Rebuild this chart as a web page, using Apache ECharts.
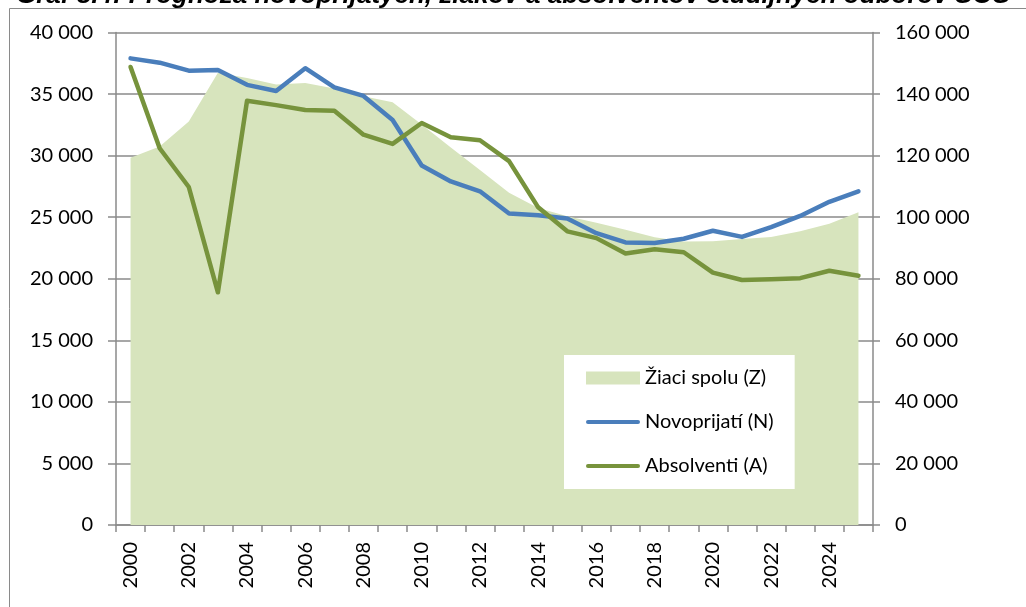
<!DOCTYPE html>
<html>
<head>
<meta charset="utf-8">
<script src="https://cdn.jsdelivr.net/npm/echarts@6/dist/echarts.min.js"></script>
<style>
  html, body { margin: 0; padding: 0; background: #fff; }
  #chart { width: 1026px; height: 607px; }
</style>
</head>
<body>
<div id="chart"></div>
<script>
// roky 2000 - 2025
var roky = ['2000','2001','2002','2003','2004','2005','2006','2007','2008','2009','2010','2011','2012',
  '2013','2014','2015','2016','2017','2018','2019','2020','2021','2022','2023','2024','2025'];

// Novoprijatí (N) - lavá os
var novoprijati = [37900, 37550, 36900, 36950, 35750, 35250, 37100, 35550, 34850, 32900, 29200, 27900, 27100,
  25300, 25150, 24900, 23700, 22950, 22900, 23250, 23900, 23400, 24200, 25100, 26250, 27100];

// Absolventi (A) - lavá os
var absolventi = [37200, 30600, 27450, 18900, 34450, 34100, 33700, 33650, 31700, 30950, 32650, 31500, 31250,
  29550, 25800, 23850, 23300, 22050, 22400, 22150, 20500, 19900, 19950, 20050, 20650, 20250];

// Žiaci spolu (Z) - pravá os
var ziaci = [119300, 123000, 131100, 146900, 145200, 143100, 143600, 141800, 139300, 137300, 130100, 122600, 115300,
  107900, 103000, 100300, 98200, 95900, 93500, 92100, 92200, 92900, 93600, 95400, 97900, 101600];

var lavaOs = { min: 0, max: 40000, interval: 5000 };
var pravaOs = { min: 0, max: 160000, interval: 20000 };

var FONT = 'Lato';
var GRAY = '#8a8a8a';
// ikona ciary v legende (bez bodu)
var CIARA = 'path://M2,0 L52,0 A2,2 0 0 1 52,4 L2,4 A2,2 0 0 1 2,0 Z';

function medzery(v) {
  return String(v).replace(/\B(?=(\d{3})+(?!\d))/g, ' ');
}

var chart = echarts.init(document.getElementById('chart'));

var option = {
  animation: false,
  textStyle: { fontFamily: FONT, color: '#000' },
  grid: { left: 116, right: 153, top: 32.5, bottom: 82, containLabel: false },
  graphic: [
    {
      type: 'rect',
      shape: { x: 9.5, y: 8.5, width: 2000, height: 2000 },
      style: { fill: null, stroke: GRAY, lineWidth: 1 },
      silent: true
    },
    {
      type: 'text',
      x: 16, y: 9,
      style: {
        text: 'Graf 8.4: Prognóza novoprijatých, žiakov a absolventov študijných odborov SOŠ',
        font: 'italic bold 26px "Liberation Sans"',
        fill: '#000',
        verticalAlign: 'bottom'
      },
      silent: true
    }
  ],
  legend: {
    orient: 'vertical',
    left: 564,
    top: 355,
    backgroundColor: '#fff',
    padding: [13, 21, 13, 22],
    itemGap: 24,
    itemWidth: 54,
    itemHeight: 13,
    textStyle: { fontFamily: FONT, fontSize: 20, color: '#000' },
    data: [
      { name: 'Žiaci spolu (Z)', icon: 'rect' },
      { name: 'Novoprijatí (N)', icon: CIARA },
      { name: 'Absolventi (A)', icon: CIARA }
    ]
  },
  xAxis: {
    type: 'category',
    data: roky,
    boundaryGap: true,
    axisLine: { lineStyle: { color: GRAY, width: 1.5 } },
    axisTick: { show: true, interval: 0, length: 7, lineStyle: { color: GRAY, width: 1.5 } },
    axisLabel: { interval: 1, rotate: 90, margin: 17, fontSize: 20, color: '#000', fontFamily: FONT },
    splitLine: { show: false }
  },
  yAxis: [
    {
      type: 'value',
      min: lavaOs.min, max: lavaOs.max, interval: lavaOs.interval,
      axisLine: { show: true, lineStyle: { color: GRAY, width: 1.5 } },
      axisTick: { show: true, length: 8, lineStyle: { color: GRAY, width: 1.5 } },
      axisLabel: { margin: 23, fontSize: 20, color: '#000', fontFamily: FONT, formatter: medzery },
      splitLine: { show: true, lineStyle: { color: GRAY, width: 1.5 } }
    },
    {
      type: 'value',
      min: pravaOs.min, max: pravaOs.max, interval: pravaOs.interval,
      position: 'right',
      axisLine: { show: true, lineStyle: { color: GRAY, width: 1.5 } },
      axisTick: { show: true, length: 7, lineStyle: { color: GRAY, width: 1.5 } },
      axisLabel: { margin: 22, fontSize: 20, color: '#000', fontFamily: FONT, formatter: medzery },
      splitLine: { show: false }
    }
  ],
  series: [
    {
      name: 'Žiaci spolu (Z)',
      type: 'line',
      yAxisIndex: 1,
      data: ziaci,
      symbol: 'none',
      lineStyle: { width: 0, color: '#d7e4bd' },
      itemStyle: { color: '#d7e4bd' },
      areaStyle: { color: '#d7e4bd', opacity: 1 },
      z: 1
    },
    {
      name: 'Novoprijatí (N)',
      type: 'line',
      yAxisIndex: 0,
      data: novoprijati,
      symbol: 'none',
      lineStyle: { width: 4.5, color: '#4a7ebb', cap: 'round', join: 'round' },
      itemStyle: { color: '#4a7ebb' },
      z: 2
    },
    {
      name: 'Absolventi (A)',
      type: 'line',
      yAxisIndex: 0,
      data: absolventi,
      symbol: 'none',
      lineStyle: { width: 4.5, color: '#77933c', cap: 'round', join: 'round' },
      itemStyle: { color: '#77933c' },
      z: 3
    }
  ]
};

chart.setOption(option);
</script>
</body>
</html>
